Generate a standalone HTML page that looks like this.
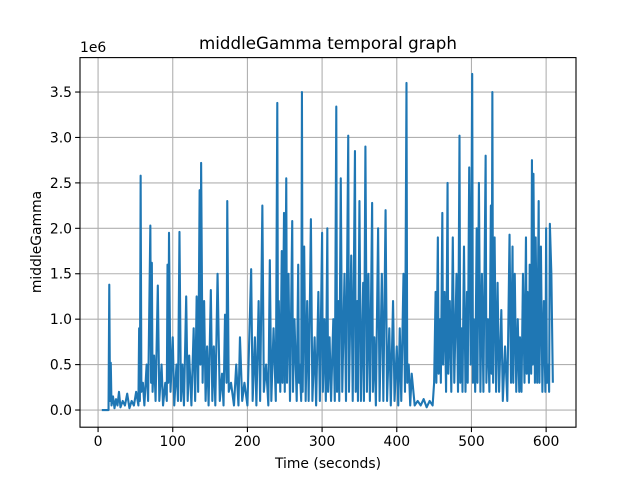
<!DOCTYPE html>
<html><head><meta charset="utf-8"><style>
body{margin:0;background:#fff}
svg{display:block;font-family:"DejaVu Sans","Liberation Sans",sans-serif}
</style></head><body>
<svg id="chart" width="640" height="480" viewBox="0 0 640 480"></svg>
<script>
const times=[5,14,15,16,17,18,20,22,24,26,28,30,33,36,39,42,45,48,51,54,55,56,57,58,60,62,65,67,70,71,72,73,75,77,80,82,85,87,90,92,93,94,95,97,100,102,105,107,109,111,113,115,118,120,122,125,128,130,132,134,136,137,138,140,142,144,146,148,151,153,155,157,160,163,166,168,170,172,173,175,178,182,185,188,190,193,196,200,205,207,210,212,215,217,220,222,225,228,230,232,235,238,240,241,242,244,246,247,249,250,252,253,255,257,260,261,263,266,268,269,270,272,273,274,276,278,280,282,285,287,290,292,295,297,300,301,303,305,307,308,310,312,315,317,319,320,322,323,325,327,330,332,335,336,339,341,344,345,347,348,350,352,355,356,358,360,362,364,367,368,370,372,375,377,380,382,385,387,390,392,395,397,400,402,404,406,409,411,413,414,416,418,420,424,428,432,436,440,444,448,450,452,453,455,456,458,459,461,462,464,466,468,469,471,473,475,477,480,482,484,485,487,488,490,492,494,495,497,499,501,502,503,505,507,508,510,512,514,516,519,520,522,524,526,527,528,529,531,533,535,537,540,542,545,548,551,553,555,556,558,560,562,564,565,567,569,571,573,574,575,577,578,580,581,582,583,585,586,588,590,591,593,595,597,599,600,601,603,604,605,607,609];
const values=[0,0,1.38,0.1,0.52,0.05,0.15,0.02,0.12,0.05,0.2,0.03,0.1,0.05,0.18,0.02,0.1,0.05,0.2,0.05,0.9,0.1,2.58,0.2,0.3,0.05,0.5,0.1,2.03,0.3,1.62,0.2,0.6,0.1,1.37,0.1,0.5,0.05,0.3,0.1,1.6,0.3,1.95,0.2,0.8,0.05,0.5,0.1,1.96,0.1,0.5,0.05,1.25,0.1,0.6,0.05,0.9,0.1,1.25,0.2,2.42,0.5,2.72,0.3,1.2,0.1,0.7,0.05,1.32,0.1,0.7,0.05,1.5,0.1,0.4,0.05,1.05,0.3,2.3,0.2,0.3,0.05,0.5,0.05,0.8,0.1,0.3,0.05,1.55,0.1,0.8,0.05,1.2,0.1,2.25,0.2,0.5,0.05,1.65,0.1,0.9,0.1,3.38,0.3,1.2,0.2,1.75,0.3,2.17,0.2,2.55,0.3,1.5,0.1,2.08,0.2,1.0,0.1,1.6,0.3,0.5,0.1,3.5,0.2,1.8,0.1,1.2,0.1,2.1,0.1,0.8,0.05,1.3,0.1,1.95,0.2,1.0,0.1,2.0,0.2,0.8,0.1,1.0,0.1,3.34,0.2,1.2,0.1,2.55,0.2,1.5,0.1,3.02,0.2,1.7,0.1,2.85,0.2,1.2,0.1,2.3,0.1,1.4,0.1,2.9,0.2,1.5,0.1,2.28,0.2,0.8,0.05,2.0,0.1,1.5,0.1,2.2,0.1,0.9,0.05,1.2,0.1,0.7,0.05,0.9,0.1,1.5,0.2,3.6,0.3,0.5,0.05,0.4,0.05,0.1,0.05,0.12,0.03,0.1,0.05,0.3,1.3,0.3,1.9,0.4,1.0,0.3,2.17,0.5,1.3,0.2,2.5,0.4,1.2,0.2,1.9,0.3,1.5,0.2,3.02,0.3,0.9,0.2,1.8,0.2,1.3,0.3,2.67,0.5,3.7,0.3,1.0,0.2,2.0,0.3,2.5,0.2,1.5,0.2,2.8,0.3,1.0,0.2,2.25,0.4,3.5,0.3,1.9,0.2,1.4,0.2,1.1,0.1,0.7,0.1,1.93,0.3,1.8,0.3,1.5,0.2,1.0,0.2,0.8,0.2,1.5,0.3,1.9,0.4,1.3,0.3,1.6,0.4,2.75,0.5,2.6,0.3,1.9,0.3,2.3,0.3,1.8,0.2,1.2,0.2,2.0,0.3,0.5,0.2,2.05,1.5,0.3];
const xTicks=[0,100,200,300,400,500,600];
const yTicks=[0,0.5,1.0,1.5,2.0,2.5,3.0,3.5];
const L=80,R=576,T=57.6,B=427.2,xmin=-24.2,xmax=640,ymin=-0.189,ymax=3.879;
const sx=v=>L+(v-xmin)/(xmax-xmin)*(R-L);
const sy=v=>B-(v-ymin)/(ymax-ymin)*(B-T);
const svg=document.getElementById('chart');
const NS='http://www.w3.org/2000/svg';
function mk(tag,attrs,parent){const e=document.createElementNS(NS,tag);for(const k in attrs)e.setAttribute(k,attrs[k]);(parent||svg).appendChild(e);return e;}
xTicks.forEach(t=>{
 const g=mk('line',{x1:sx(t),x2:sx(t),y1:T,y2:B,stroke:'#b0b0b0','stroke-width':1.1});
 
 
 mk('line',{x1:sx(t),x2:sx(t),y1:B,y2:B+4.9,stroke:'#000','stroke-width':1.1});
 const tx=mk('text',{x:sx(t),y:B+19,'font-size':13.9,'text-anchor':'middle'});tx.textContent=t;
 
 
});
yTicks.forEach(t=>{
 const g=mk('line',{x1:L,x2:R,y1:sy(t),y2:sy(t),stroke:'#b0b0b0','stroke-width':1.1});
 
 
 mk('line',{x1:L-4.9,x2:L,y1:sy(t),y2:sy(t),stroke:'#000','stroke-width':1.1});
 const tx=mk('text',{x:L-8,y:sy(t)+5,'font-size':13.9,'text-anchor':'end'});tx.textContent=t.toFixed(1);
 
 
});
const cp=mk('clipPath',{id:'cp'});mk('rect',{x:L,y:T,width:R-L,height:B-T},cp);
const line=mk('polyline',{points:times.map((t,i)=>sx(t)+','+sy(values[i])).join(' '),fill:'none',stroke:'#1f77b4','stroke-width':2.1,'stroke-linejoin':'round','clip-path':'url(#cp)'});


const fr=mk('rect',{x:L,y:T,width:R-L,height:B-T,fill:'none',stroke:'#000','stroke-width':1.1});


</script>
<svg style="position:absolute;left:0;top:0" width="640" height="480">
<text x="328" y="49" font-size="16.7" text-anchor="middle" font-family="DejaVu Sans,sans-serif">middleGamma temporal graph</text>
<text x="80" y="52" font-size="13.9" font-family="DejaVu Sans,sans-serif">1e6</text>
<text x="328" y="468" font-size="13.9" text-anchor="middle" font-family="DejaVu Sans,sans-serif">Time (seconds)</text>
<text x="41" y="242" font-size="13.9" text-anchor="middle" transform="rotate(-90 41 242)" font-family="DejaVu Sans,sans-serif">middleGamma</text>
</svg>
</body></html>
